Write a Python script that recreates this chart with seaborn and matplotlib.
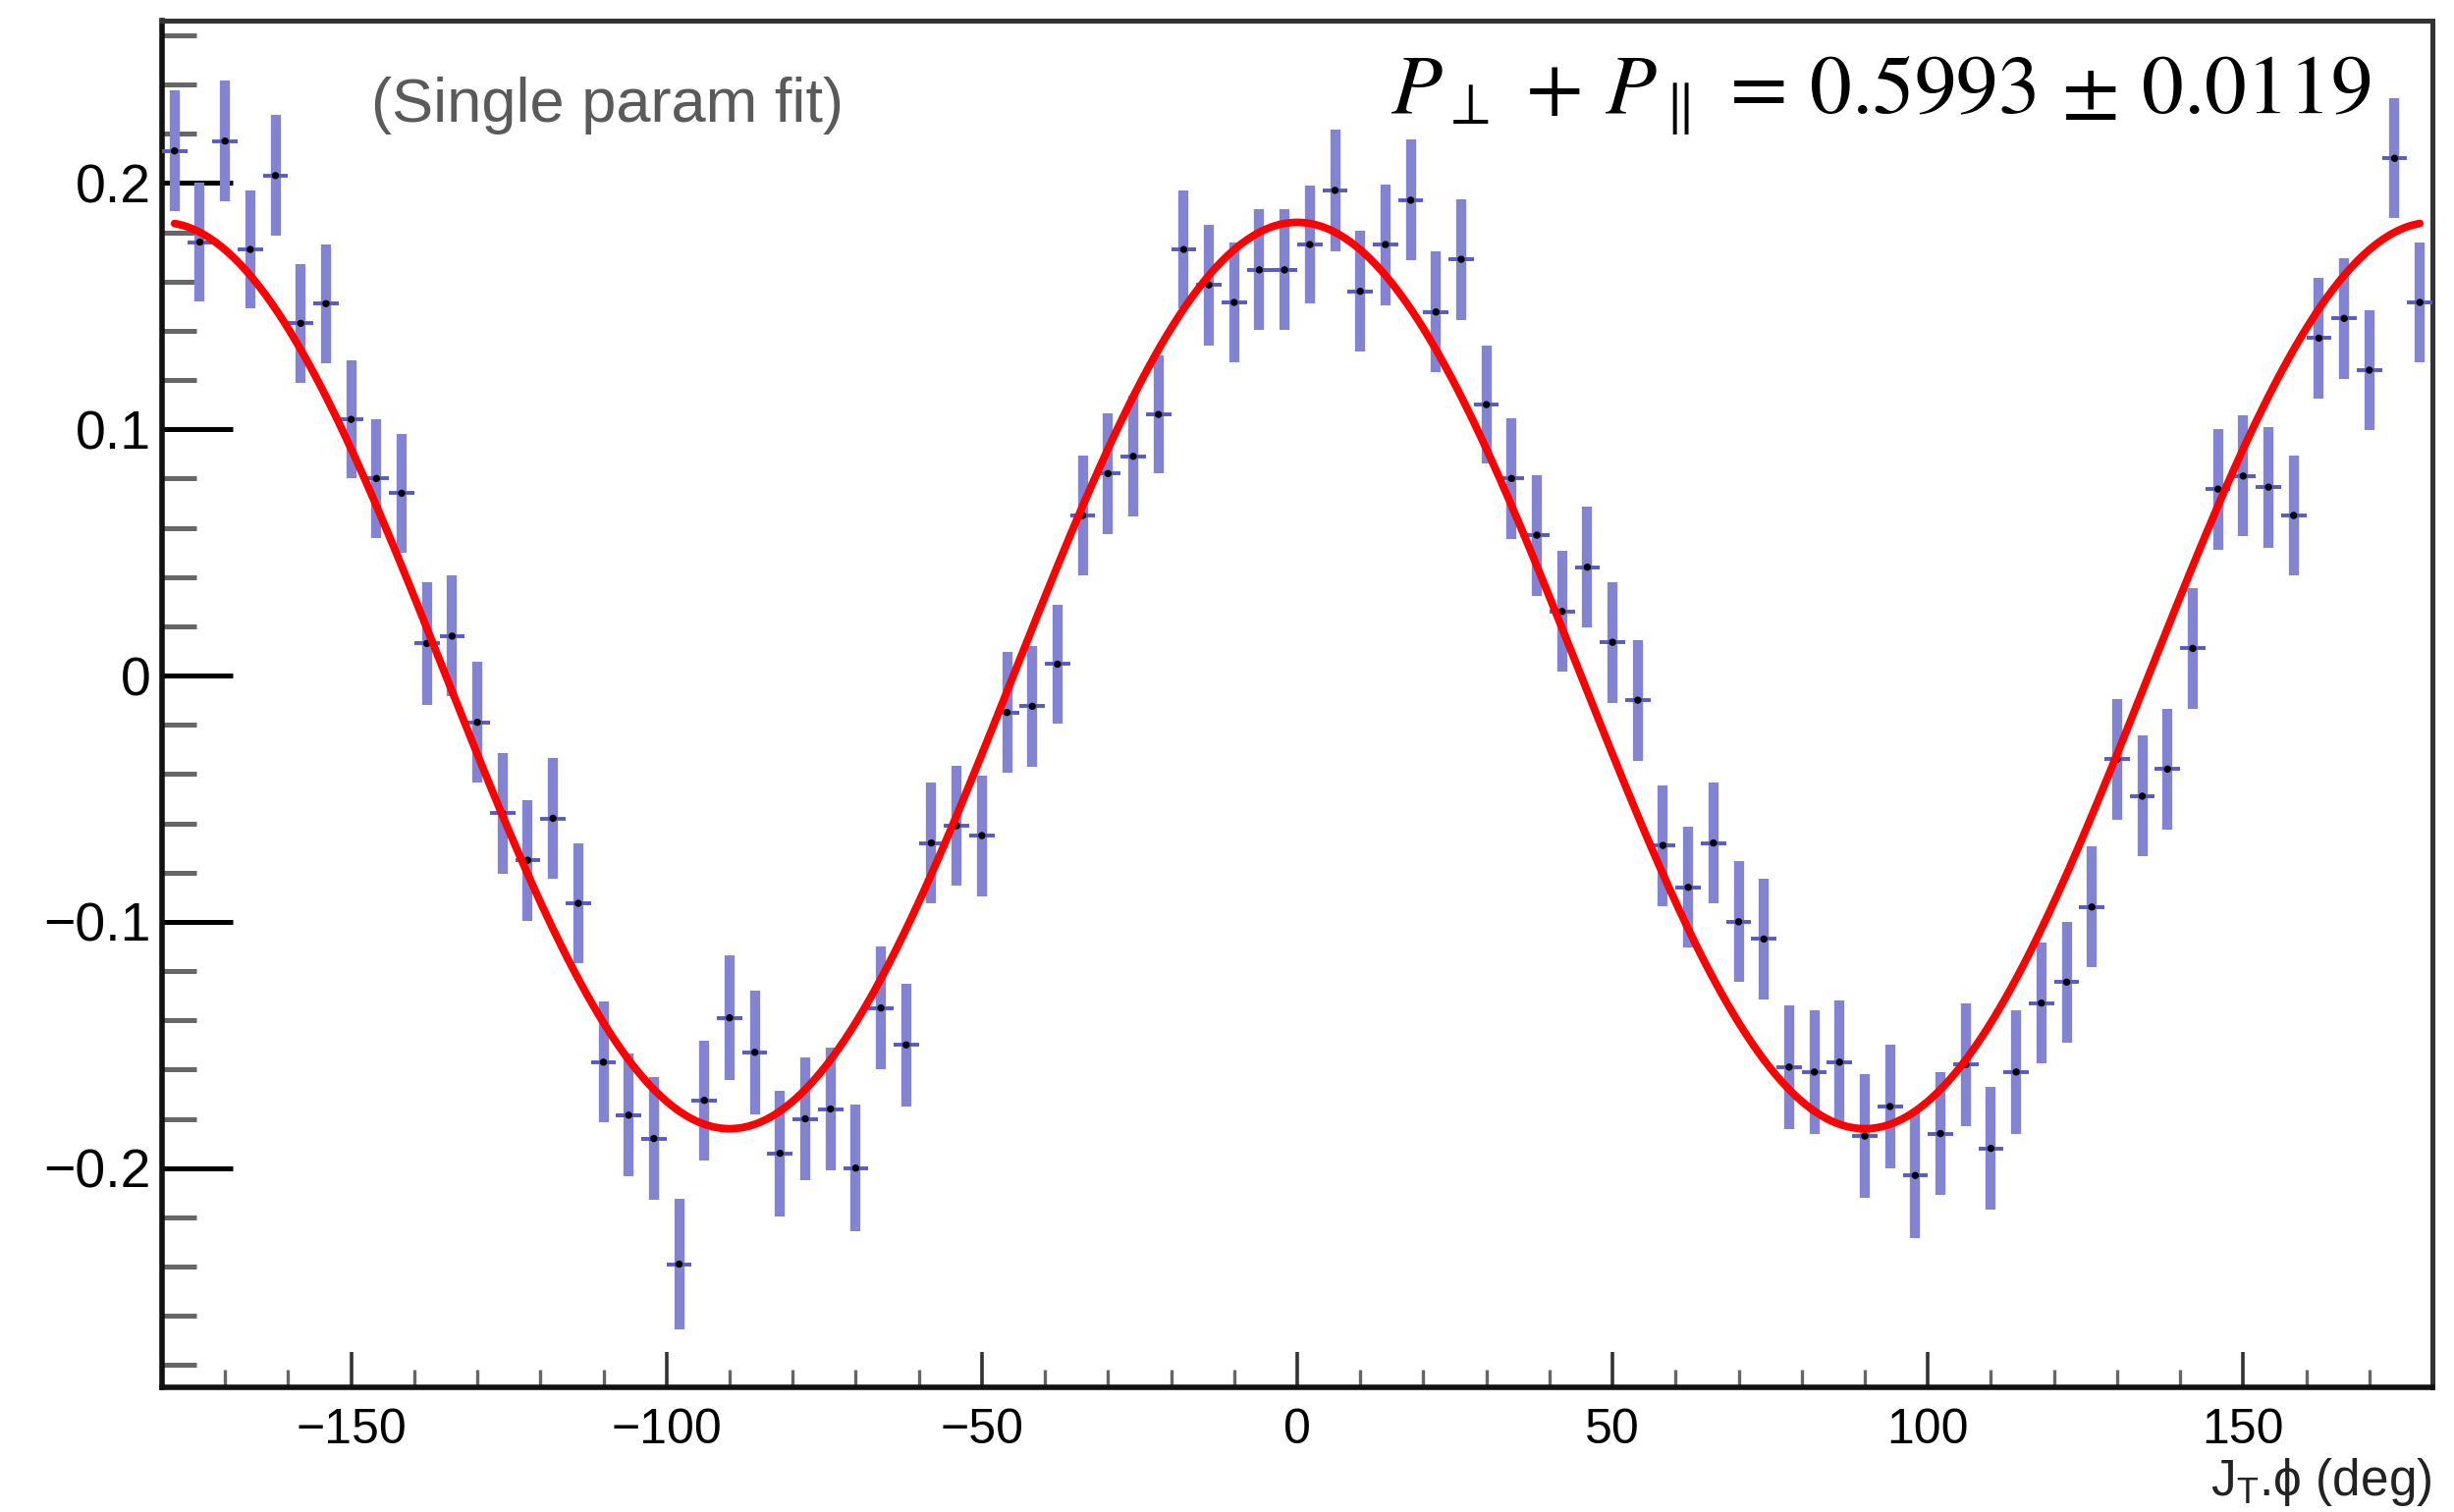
import numpy as np
import pandas as pd
import matplotlib
matplotlib.use("Agg")
import matplotlib.pyplot as plt
import seaborn as sns
from matplotlib.ticker import MultipleLocator, FuncFormatter

# ---------------- data ----------------
PHI_MIN, PHI_MAX, N_BINS = -180.0, 180.0, 90

ASYMMETRY = [
    0.213, 0.176, 0.217, 0.173, 0.203, 0.143, 0.151, 0.104, 0.080, 0.074,
    0.013, 0.016, -0.019, -0.056, -0.075, -0.058, -0.0925, -0.157, -0.1785, -0.188,
    -0.239, -0.1725, -0.139, -0.153, -0.194, -0.180, -0.176, -0.200, -0.135, -0.150,
    -0.068, -0.061, -0.065, -0.015, -0.0125, 0.0046, 0.065, 0.082, 0.089, 0.106,
    0.173, 0.1586, 0.1515, 0.1647, 0.1647, 0.175, 0.197, 0.156, 0.175, 0.193,
    0.1476, 0.169, 0.110, 0.080, 0.057, 0.026, 0.044, 0.0135, -0.010, -0.069,
    -0.086, -0.068, -0.100, -0.107, -0.159, -0.161, -0.157, -0.187, -0.175, -0.203,
    -0.186, -0.158, -0.192, -0.161, -0.133, -0.1245, -0.094, -0.034, -0.049, -0.038,
    0.011, 0.0757, 0.081, 0.0765, 0.065, 0.137, 0.145, 0.124, 0.210, 0.1515,
]

ERRORS = [
    0.0245, 0.0240, 0.0244, 0.0240, 0.0245, 0.0240, 0.0242, 0.0240, 0.0240, 0.0242,
    0.0250, 0.0245, 0.0245, 0.0245, 0.0245, 0.0245, 0.0244, 0.0245, 0.0250, 0.0250,
    0.0265, 0.0244, 0.0254, 0.0250, 0.0255, 0.0250, 0.0250, 0.0258, 0.0250, 0.0250,
    0.0245, 0.0245, 0.0245, 0.0245, 0.0245, 0.0240, 0.0245, 0.0245, 0.0245, 0.0240,
    0.0240, 0.0245, 0.0245, 0.0245, 0.0245, 0.0240, 0.0247, 0.0245, 0.0245, 0.0245,
    0.0245, 0.0245, 0.0240, 0.0245, 0.0245, 0.0245, 0.0245, 0.0245, 0.0245, 0.0245,
    0.0245, 0.0245, 0.0245, 0.0245, 0.0250, 0.0250, 0.0250, 0.0250, 0.0250, 0.0255,
    0.0250, 0.0250, 0.0250, 0.0250, 0.0245, 0.0245, 0.0245, 0.0245, 0.0245, 0.0245,
    0.0245, 0.0245, 0.0245, 0.0245, 0.0245, 0.0245, 0.0245, 0.0245, 0.0244, 0.0245,
]

FIT_AMPLITUDE = 0.184          # single-parameter fit: A * cos(2 phi)
FIT_TEXT = r"$P_{\perp}\,+\,P_{\parallel}\,=\,0.5993\,\pm\,0.0119$"
NOTE_TEXT = "(Single param fit)"
X_LABEL = "J$_{\\mathregular{T}}$.\u03d5 (deg)"
X_TICKS = [-150, -100, -50, 0, 50, 100, 150]
Y_TICKS = [-0.2, -0.1, 0.0, 0.1, 0.2]

# ---------------- frame ----------------
edges = np.linspace(PHI_MIN, PHI_MAX, N_BINS + 1)
centers = 0.5 * (edges[:-1] + edges[1:])
half_width = 0.5 * (edges[1] - edges[0])
df = pd.DataFrame({"phi": centers, "asym": ASYMMETRY, "err": ERRORS})

phi_fit = np.linspace(centers[0], centers[-1], 721)
fit_df = pd.DataFrame({"phi": phi_fit,
                       "fit": FIT_AMPLITUDE * np.cos(np.radians(2 * phi_fit))})

# ---------------- style ----------------
sns.set_theme(style="ticks")
plt.rcParams["font.family"] = ["Liberation Sans", "DejaVu Sans"]
plt.rcParams["mathtext.fontset"] = "dejavusans"

fig = plt.figure(figsize=(24.99, 15.40), dpi=100)
ax = fig.add_axes([0.0660, 0.0825, 0.9252, 0.9040])

# error bars (vertical, thick, light blue)
ax.errorbar(df["phi"], df["asym"], yerr=df["err"], fmt="none",
            ecolor="#8383d3", elinewidth=7.4, capsize=0, zorder=2)
# bin-width bars (horizontal, thinner)
ax.errorbar(df["phi"], df["asym"], xerr=half_width, fmt="none",
            ecolor="#5a5ac4", elinewidth=2.8, capsize=0, zorder=3)
# bin centres
sns.scatterplot(data=df, x="phi", y="asym", ax=ax, color="black", s=28,
                marker="o", edgecolor="none", zorder=4, legend=False)
# fit curve
sns.lineplot(data=fit_df, x="phi", y="fit", ax=ax, color="#ff0000",
             linewidth=5.6, zorder=5, legend=False)

ax.set_xlim(PHI_MIN, PHI_MAX)
ax.set_ylim(-0.289, 0.266)

ax.xaxis.set_major_locator(MultipleLocator(50))
ax.xaxis.set_minor_locator(MultipleLocator(10))
ax.set_xticks(X_TICKS)
ax.yaxis.set_major_locator(MultipleLocator(0.1))
ax.yaxis.set_minor_locator(MultipleLocator(0.02))
ax.set_yticks(Y_TICKS)


def yfmt(v, pos):
    if abs(v) < 1e-9:
        return "0"
    return f"{v:.1f}".replace("-", "\u2212")


def xfmt(v, pos):
    return f"{int(round(v))}".replace("-", "\u2212")


ax.yaxis.set_major_formatter(FuncFormatter(yfmt))
ax.xaxis.set_major_formatter(FuncFormatter(xfmt))

ax.tick_params(axis="y", which="major", direction="in", length=52, width=3.6,
               color="black", labelsize=40, pad=8, labelcolor="black")
ax.tick_params(axis="y", which="minor", direction="in", length=25, width=3.6,
               color="#666666")
ax.tick_params(axis="x", which="major", direction="in", length=26, width=2.6,
               color="#333333", labelsize=36, pad=15, labelcolor="black")
ax.tick_params(axis="x", which="minor", direction="in", length=13, width=2.4,
               color="#666666")

for side in ["left", "bottom"]:
    ax.spines[side].set_linewidth(4.0)
    ax.spines[side].set_color("#111111")
for side in ["top", "right"]:
    ax.spines[side].set_linewidth(3.6)
    ax.spines[side].set_color("#333333")

ax.set_ylabel("")
ax.set_xlabel(X_LABEL, loc="right", fontsize=37, labelpad=2, color="#222222")

ax.text(0.092, 0.926, NOTE_TEXT, transform=ax.transAxes, fontsize=45.5,
        color="#5a5a5a", ha="left", va="baseline")
ax.text(0.973, 0.932, FIT_TEXT, transform=ax.transAxes, fontsize=61.5,
        color="black", ha="right", va="baseline",
        math_fontfamily="stix")

fig.savefig("out.png", dpi=100, facecolor="white")
